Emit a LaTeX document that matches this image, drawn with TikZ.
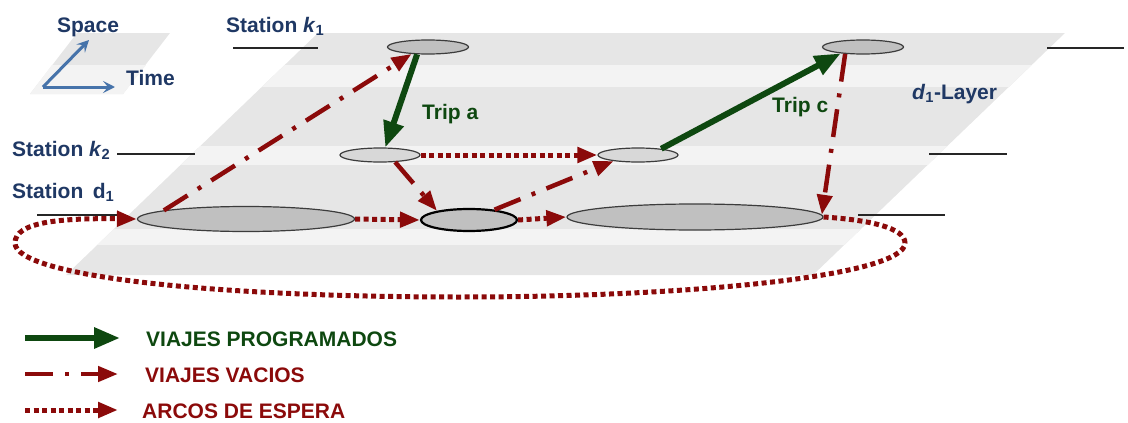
\documentclass[tikz,border=0pt]{standalone}
\usepackage{fontspec}
\setmainfont{Liberation Sans}
\usetikzlibrary{arrows.meta,shapes.geometric}

\definecolor{navy}{RGB}{31,56,100}
\definecolor{axisblue}{RGB}{70,115,170}
\definecolor{tripgreen}{RGB}{14,72,16}
\definecolor{darkred}{RGB}{139,10,10}
\definecolor{layerdark}{RGB}{230,230,230}
\definecolor{layerlight}{RGB}{243,243,243}
\definecolor{nodegray}{RGB}{192,192,192}
\definecolor{nodelight}{RGB}{216,216,216}
\definecolor{nodeline}{RGB}{60,60,60}

\begin{document}
\begin{tikzpicture}[x=1pt,y=-1pt,
  every node/.style={inner sep=0pt,font=\bfseries\fontsize{21}{24}\selectfont},
  stop/.style={ellipse,draw=nodeline,fill=nodegray,line width=1.2pt,inner sep=0pt},
  sched/.style={tripgreen,line width=6pt,-{Triangle[length=26pt,width=20pt]}},
  empty/.style={darkred,line width=4.5pt,dash pattern=on 28pt off 12pt on 4pt off 12pt,-{Triangle[length=20pt,width=15pt]}},
  wait/.style={darkred,line width=5pt,dash pattern=on 5pt off 3.5pt,-{Triangle[length=20pt,width=15pt]}},
  axis/.style={axisblue,line width=3pt,-{Stealth[length=12pt,width=12pt,inset=5pt]}},
  stationline/.style={line width=1.5pt,black!85}]

\useasboundingbox (0,0) rectangle (1128,423);

% The small space-time plane
\fill[layerdark] (77,33) -- (170,33) -- (123,94) -- (30,94) -- cycle;
\fill[layerlight] (52,65) -- (146,65) -- (123,94) -- (30,94) -- cycle;
\coordinate (origin) at (43,87);
\coordinate (spc) at (89,40);
\coordinate (tme) at (115,87);
\draw[axis] (origin) -- (spc);
\draw[axis] (origin) -- (tme);
\node[navy,anchor=base] (space) at (88,32) {Space};
\node[navy,anchor=base west] (time) at (126,85) {Time};

% The d1 layer with its stripes
\fill[layerdark] (318,33) -- (1065,33) -- (813,275) -- (66,275) -- cycle;
\begin{scope}
  \clip (318,33) -- (1065,33) -- (813,275) -- (66,275) -- cycle;
  \foreach \ya/\yb in {65/87, 146/165, 229/245} {
    \fill[layerlight] (0,\ya) rectangle (1128,\yb);
  }
\end{scope}

% Station levels
\foreach \xa/\xb/\yy in {233/318/48, 1047/1124/48, 117/195/154, 929/1007/154, 37/120/215, 858/945/215} {
  \draw[stationline] (\xa,\yy) -- (\xb,\yy);
}
\node[navy,anchor=base west] (stk1) at (226,32) {Station \textit{k}\textsubscript{1}};
\node[navy,anchor=base west] (stk2) at (12,156) {Station \textit{k}\textsubscript{2}};
\node[navy,anchor=base west] (std1) at (12,198) {Station\hspace{0.45em}d\textsubscript{1}};
\node[navy,anchor=base west] (layer) at (912,99) {\textit{d}\textsubscript{1}-Layer};

% Events at the stations
\node[stop,minimum width=81pt,minimum height=14pt] (k1a) at (428,47) {};
\node[stop,minimum width=81pt,minimum height=14pt] (k1b) at (863,47) {};
\node[stop,fill=nodelight,minimum width=80pt,minimum height=14pt] (k2a) at (380,155) {};
\node[stop,fill=nodelight,minimum width=80pt,minimum height=14pt] (k2b) at (638,155) {};
\node[stop,minimum width=217pt,minimum height=25pt] (d1a) at (246,219) {};
\node[stop,draw=black,line width=2.2pt,minimum width=96pt,minimum height=22pt] (d1b) at (469,220) {};
\node[stop,minimum width=256pt,minimum height=26pt] (d1c) at (695,217) {};

% Scheduled trips
\draw[sched] (k1a.-146) -- (k2a.55);
\draw[sched] (k2b.15) -- (k1b.-164);
\node[tripgreen,anchor=base west] (tripa) at (422,119) {Trip a};
\node[tripgreen,anchor=base west] (tripc) at (772,112) {Trip c};

% Empty trips
\draw[empty] (d1a.174) -- (k1a.-157);
\draw[empty] (k1b.-159) -- (d1c.1.5);
\draw[empty] (k2a.-25) -- (d1b.164);
\draw[empty] (d1b.22) -- (k2b.-166);

% Waiting arcs and the loop back to the depot
\draw[wait] (k2a.east) -- (k2b.west);
\draw[wait] (d1a.east) -- (d1b.west);
\draw[wait] (d1b.east) -- (d1c.west);
\draw[wait] (d1c.east) .. controls (870,220) and (905,228) .. (905,243)
  .. controls (905,275) and (700,297) .. (460,297)
  .. controls (200,297) and (15,275) .. (15,243)
  .. controls (15,222) and (60,218) .. (d1a.west);

% Legend
\coordinate (l1a) at (25,338);  \coordinate (l1b) at (120,338);
\coordinate (l2a) at (25,374);  \coordinate (l2b) at (118,374);
\coordinate (l3a) at (25,410);  \coordinate (l3b) at (118,410);
\draw[sched] (l1a) -- (l1b);
\draw[empty] (l2a) -- (l2b);
\draw[wait] (l3a) -- (l3b);
\node[tripgreen,anchor=base west] (lg1) at (146,346) {VIAJES PROGRAMADOS};
\node[darkred,anchor=base west] (lg2) at (145,382) {VIAJES VACIOS};
\node[darkred,anchor=base west] (lg3) at (142,418) {ARCOS DE ESPERA};

\end{tikzpicture}
\end{document}
